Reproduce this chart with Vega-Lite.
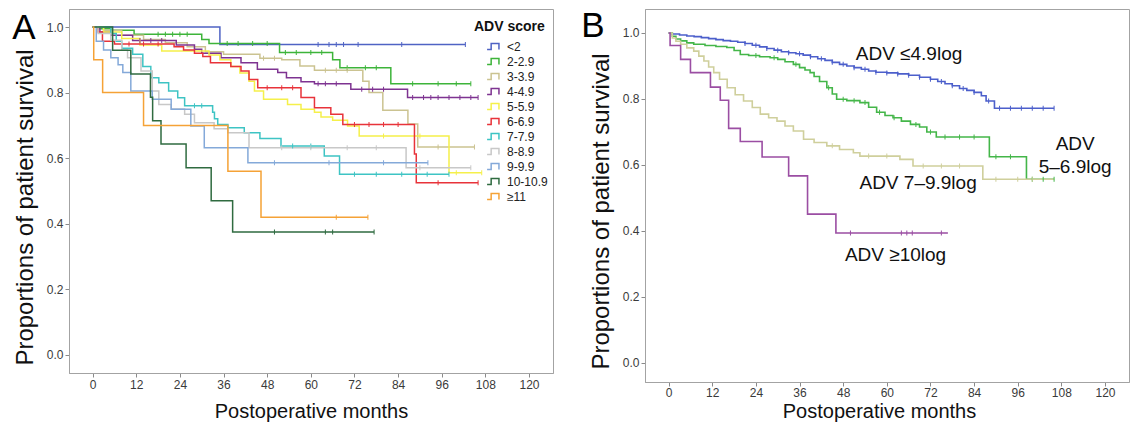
{
  "$schema": "https://vega.github.io/schema/vega-lite/v6.json",
  "padding": {"left": 11, "top": 8, "right": 0, "bottom": 0},
  "autosize": {"type": "pad"},
  "background": "white",
  "spacing": 26,
  "config": {
    "font": "Liberation Sans",
    "view": {"stroke": "#a3a3a3", "strokeWidth": 1},
    "axis": {"grid": false, "domainColor": "#a3a3a3", "tickColor": "#8a8a8a", "tickSize": 4, "labelFontSize": 12, "labelColor": "#3a3a3a", "labelPadding": 2, "titleFontWeight": "normal", "titleColor": "#111111", "labelFont": "Liberation Sans", "titleFont": "Liberation Sans"}
  },
  "resolve": {"scale": {"color": "independent", "fill": "independent"}, "legend": {"color": "independent", "fill": "independent"}},
  "datasets": {
    "a": [
      {"g":"<2","t":0,"s":1},{"g":"<2","t":35,"s":0.947},{"g":"<2","t":102.5,"s":0.947},
      {"g":"2-2.9","t":0,"s":1},{"g":"2-2.9","t":1.5,"s":0.995},{"g":"2-2.9","t":5,"s":0.99},{"g":"2-2.9","t":11.4,"s":0.978},{"g":"2-2.9","t":30,"s":0.962},{"g":"2-2.9","t":32,"s":0.95},{"g":"2-2.9","t":51.4,"s":0.922},{"g":"2-2.9","t":66,"s":0.9},{"g":"2-2.9","t":68,"s":0.876},{"g":"2-2.9","t":82,"s":0.827},{"g":"2-2.9","t":104,"s":0.827},
      {"g":"3-3.9","t":0,"s":1},{"g":"3-3.9","t":3,"s":0.99},{"g":"3-3.9","t":8,"s":0.975},{"g":"3-3.9","t":14,"s":0.962},{"g":"3-3.9","t":20,"s":0.952},{"g":"3-3.9","t":26,"s":0.94},{"g":"3-3.9","t":31,"s":0.925},{"g":"3-3.9","t":36,"s":0.917},{"g":"3-3.9","t":46,"s":0.905},{"g":"3-3.9","t":52,"s":0.9},{"g":"3-3.9","t":57,"s":0.881},{"g":"3-3.9","t":61,"s":0.868},{"g":"3-3.9","t":74.3,"s":0.835},{"g":"3-3.9","t":76,"s":0.8},{"g":"3-3.9","t":79.8,"s":0.746},{"g":"3-3.9","t":86.7,"s":0.704},{"g":"3-3.9","t":89.4,"s":0.634},{"g":"3-3.9","t":105,"s":0.634},
      {"g":"4-4.9","t":0,"s":1},{"g":"4-4.9","t":2,"s":0.985},{"g":"4-4.9","t":5,"s":0.975},{"g":"4-4.9","t":11,"s":0.959},{"g":"4-4.9","t":23,"s":0.945},{"g":"4-4.9","t":28,"s":0.932},{"g":"4-4.9","t":30,"s":0.92},{"g":"4-4.9","t":35.3,"s":0.906},{"g":"4-4.9","t":40.8,"s":0.891},{"g":"4-4.9","t":45.3,"s":0.871},{"g":"4-4.9","t":50.9,"s":0.861},{"g":"4-4.9","t":53.3,"s":0.845},{"g":"4-4.9","t":57.3,"s":0.833},{"g":"4-4.9","t":61,"s":0.827},{"g":"4-4.9","t":71,"s":0.81},{"g":"4-4.9","t":86.6,"s":0.785},{"g":"4-4.9","t":106,"s":0.785},
      {"g":"5-5.9","t":0,"s":1},{"g":"5-5.9","t":3,"s":0.985},{"g":"5-5.9","t":8,"s":0.965},{"g":"5-5.9","t":13,"s":0.945},{"g":"5-5.9","t":19,"s":0.927},{"g":"5-5.9","t":32,"s":0.915},{"g":"5-5.9","t":35,"s":0.9},{"g":"5-5.9","t":38,"s":0.88},{"g":"5-5.9","t":40.5,"s":0.86},{"g":"5-5.9","t":43,"s":0.835},{"g":"5-5.9","t":44.5,"s":0.805},{"g":"5-5.9","t":47,"s":0.78},{"g":"5-5.9","t":53.6,"s":0.764},{"g":"5-5.9","t":57.3,"s":0.749},{"g":"5-5.9","t":61,"s":0.74},{"g":"5-5.9","t":62.8,"s":0.726},{"g":"5-5.9","t":66,"s":0.716},{"g":"5-5.9","t":70.1,"s":0.698},{"g":"5-5.9","t":73.3,"s":0.668},{"g":"5-5.9","t":98,"s":0.556},{"g":"5-5.9","t":107,"s":0.556},
      {"g":"6-6.9","t":0,"s":1},{"g":"6-6.9","t":1.5,"s":0.985},{"g":"6-6.9","t":2.7,"s":0.957},{"g":"6-6.9","t":6,"s":0.948},{"g":"6-6.9","t":22.4,"s":0.94},{"g":"6-6.9","t":25,"s":0.93},{"g":"6-6.9","t":28,"s":0.92},{"g":"6-6.9","t":30.3,"s":0.91},{"g":"6-6.9","t":32.4,"s":0.891},{"g":"6-6.9","t":38,"s":0.88},{"g":"6-6.9","t":40.8,"s":0.866},{"g":"6-6.9","t":43,"s":0.84},{"g":"6-6.9","t":45.4,"s":0.815},{"g":"6-6.9","t":57.3,"s":0.785},{"g":"6-6.9","t":61,"s":0.754},{"g":"6-6.9","t":65.5,"s":0.734},{"g":"6-6.9","t":68.8,"s":0.703},{"g":"6-6.9","t":88.5,"s":0.613},{"g":"6-6.9","t":89,"s":0.525},{"g":"6-6.9","t":106,"s":0.525},
      {"g":"7-7.9","t":0,"s":1},{"g":"7-7.9","t":5,"s":0.98},{"g":"7-7.9","t":6.5,"s":0.957},{"g":"7-7.9","t":8,"s":0.935},{"g":"7-7.9","t":11,"s":0.917},{"g":"7-7.9","t":13.8,"s":0.88},{"g":"7-7.9","t":16,"s":0.845},{"g":"7-7.9","t":18.2,"s":0.83},{"g":"7-7.9","t":20.9,"s":0.805},{"g":"7-7.9","t":23.4,"s":0.784},{"g":"7-7.9","t":25.3,"s":0.76},{"g":"7-7.9","t":33,"s":0.74},{"g":"7-7.9","t":33.5,"s":0.72},{"g":"7-7.9","t":34.4,"s":0.703},{"g":"7-7.9","t":37.2,"s":0.693},{"g":"7-7.9","t":41.7,"s":0.678},{"g":"7-7.9","t":46,"s":0.66},{"g":"7-7.9","t":51.8,"s":0.637},{"g":"7-7.9","t":63.7,"s":0.607},{"g":"7-7.9","t":67.9,"s":0.551},{"g":"7-7.9","t":98,"s":0.551},
      {"g":"8-8.9","t":0,"s":1},{"g":"8-8.9","t":1.5,"s":0.98},{"g":"8-8.9","t":5,"s":0.96},{"g":"8-8.9","t":8,"s":0.93},{"g":"8-8.9","t":9.6,"s":0.906},{"g":"8-8.9","t":13.3,"s":0.866},{"g":"8-8.9","t":16.4,"s":0.805},{"g":"8-8.9","t":18.2,"s":0.764},{"g":"8-8.9","t":21.6,"s":0.75},{"g":"8-8.9","t":25.3,"s":0.734},{"g":"8-8.9","t":28,"s":0.708},{"g":"8-8.9","t":33.4,"s":0.69},{"g":"8-8.9","t":37.2,"s":0.678},{"g":"8-8.9","t":43,"s":0.632},{"g":"8-8.9","t":86.2,"s":0.571},{"g":"8-8.9","t":104,"s":0.571},
      {"g":"9-9.9","t":0,"s":1},{"g":"9-9.9","t":1,"s":0.957},{"g":"9-9.9","t":3,"s":0.93},{"g":"9-9.9","t":5,"s":0.906},{"g":"9-9.9","t":7,"s":0.885},{"g":"9-9.9","t":8.3,"s":0.861},{"g":"9-9.9","t":10.5,"s":0.805},{"g":"9-9.9","t":16.4,"s":0.78},{"g":"9-9.9","t":21.6,"s":0.749},{"g":"9-9.9","t":27,"s":0.698},{"g":"9-9.9","t":30.7,"s":0.632},{"g":"9-9.9","t":42.7,"s":0.586},{"g":"9-9.9","t":92.2,"s":0.586},
      {"g":"10-10.9","t":0,"s":1},{"g":"10-10.9","t":5.5,"s":0.929},{"g":"10-10.9","t":10.5,"s":0.857},{"g":"10-10.9","t":15.9,"s":0.786},{"g":"10-10.9","t":16.5,"s":0.714},{"g":"10-10.9","t":18.8,"s":0.643},{"g":"10-10.9","t":25.7,"s":0.571},{"g":"10-10.9","t":32.6,"s":0.47},{"g":"10-10.9","t":38.5,"s":0.375},{"g":"10-10.9","t":77.4,"s":0.375},
      {"g":"≥11","t":0,"s":1},{"g":"≥11","t":0.3,"s":0.9},{"g":"≥11","t":2.75,"s":0.8},{"g":"≥11","t":14,"s":0.7},{"g":"≥11","t":37.2,"s":0.56},{"g":"≥11","t":46.3,"s":0.42},{"g":"≥11","t":75.7,"s":0.42}
    ],
    "ac": [
      {"c":"<2","t":62,"s":0.947},{"c":"<2","t":65,"s":0.947},{"c":"<2","t":67,"s":0.947},{"c":"<2","t":69,"s":0.947},{"c":"<2","t":73,"s":0.947},{"c":"<2","t":85,"s":0.947},{"c":"<2","t":102.5,"s":0.947},
      {"c":"2-2.9","t":18,"s":0.978},{"c":"2-2.9","t":20,"s":0.978},{"c":"2-2.9","t":22,"s":0.978},{"c":"2-2.9","t":24,"s":0.978},{"c":"2-2.9","t":26,"s":0.978},{"c":"2-2.9","t":37,"s":0.95},{"c":"2-2.9","t":40,"s":0.95},{"c":"2-2.9","t":44,"s":0.95},{"c":"2-2.9","t":48,"s":0.95},{"c":"2-2.9","t":53,"s":0.922},{"c":"2-2.9","t":56,"s":0.922},{"c":"2-2.9","t":60,"s":0.922},{"c":"2-2.9","t":63,"s":0.922},{"c":"2-2.9","t":70,"s":0.876},{"c":"2-2.9","t":75,"s":0.876},{"c":"2-2.9","t":78,"s":0.876},{"c":"2-2.9","t":88,"s":0.827},{"c":"2-2.9","t":95,"s":0.827},{"c":"2-2.9","t":100,"s":0.827},{"c":"2-2.9","t":104,"s":0.827},
      {"c":"3-3.9","t":47,"s":0.905},{"c":"3-3.9","t":50,"s":0.905},{"c":"3-3.9","t":64,"s":0.868},{"c":"3-3.9","t":67,"s":0.868},{"c":"3-3.9","t":70,"s":0.868},{"c":"3-3.9","t":95,"s":0.634},{"c":"3-3.9","t":105,"s":0.634},
      {"c":"4-4.9","t":13,"s":0.959},{"c":"4-4.9","t":16,"s":0.959},{"c":"4-4.9","t":19,"s":0.959},{"c":"4-4.9","t":62,"s":0.827},{"c":"4-4.9","t":64,"s":0.827},{"c":"4-4.9","t":67,"s":0.827},{"c":"4-4.9","t":74,"s":0.81},{"c":"4-4.9","t":77,"s":0.81},{"c":"4-4.9","t":80,"s":0.81},{"c":"4-4.9","t":88,"s":0.785},{"c":"4-4.9","t":91,"s":0.785},{"c":"4-4.9","t":93,"s":0.785},{"c":"4-4.9","t":95,"s":0.785},{"c":"4-4.9","t":98,"s":0.785},{"c":"4-4.9","t":101,"s":0.785},{"c":"4-4.9","t":104,"s":0.785},{"c":"4-4.9","t":106,"s":0.785},
      {"c":"5-5.9","t":80,"s":0.668},{"c":"5-5.9","t":90,"s":0.668},{"c":"5-5.9","t":100,"s":0.556},{"c":"5-5.9","t":107,"s":0.556},
      {"c":"6-6.9","t":10,"s":0.948},{"c":"6-6.9","t":14,"s":0.948},{"c":"6-6.9","t":18,"s":0.948},{"c":"6-6.9","t":48,"s":0.815},{"c":"6-6.9","t":52,"s":0.815},{"c":"6-6.9","t":55,"s":0.815},{"c":"6-6.9","t":72,"s":0.703},{"c":"6-6.9","t":76,"s":0.703},{"c":"6-6.9","t":80,"s":0.703},{"c":"6-6.9","t":84,"s":0.703},{"c":"6-6.9","t":95,"s":0.525},{"c":"6-6.9","t":106,"s":0.525},
      {"c":"7-7.9","t":28,"s":0.76},{"c":"7-7.9","t":30,"s":0.76},{"c":"7-7.9","t":55,"s":0.637},{"c":"7-7.9","t":60,"s":0.637},{"c":"7-7.9","t":72,"s":0.551},{"c":"7-7.9","t":78,"s":0.551},{"c":"7-7.9","t":85,"s":0.551},{"c":"7-7.9","t":92,"s":0.551},{"c":"7-7.9","t":98,"s":0.551},
      {"c":"8-8.9","t":52,"s":0.632},{"c":"8-8.9","t":60,"s":0.632},{"c":"8-8.9","t":70,"s":0.632},{"c":"8-8.9","t":78,"s":0.632},{"c":"8-8.9","t":90,"s":0.571},{"c":"8-8.9","t":104,"s":0.571},
      {"c":"9-9.9","t":50,"s":0.586},{"c":"9-9.9","t":65,"s":0.586},{"c":"9-9.9","t":80,"s":0.586},{"c":"9-9.9","t":92.2,"s":0.586},
      {"c":"10-10.9","t":50,"s":0.375},{"c":"10-10.9","t":64,"s":0.375},{"c":"10-10.9","t":66,"s":0.375},{"c":"10-10.9","t":77.4,"s":0.375},
      {"c":"≥11","t":67,"s":0.42},{"c":"≥11","t":75.7,"s":0.42}
    ],
    "b": [
      {"g":"≤4.9","t":0,"s":1},{"g":"≤4.9","t":1,"s":0.997},{"g":"≤4.9","t":3,"s":0.994},{"g":"≤4.9","t":5,"s":0.991},{"g":"≤4.9","t":7,"s":0.989},{"g":"≤4.9","t":9,"s":0.986},{"g":"≤4.9","t":11,"s":0.983},{"g":"≤4.9","t":13,"s":0.98},{"g":"≤4.9","t":15,"s":0.977},{"g":"≤4.9","t":17,"s":0.975},{"g":"≤4.9","t":19,"s":0.972},{"g":"≤4.9","t":21,"s":0.968},{"g":"≤4.9","t":23,"s":0.963},{"g":"≤4.9","t":25,"s":0.958},{"g":"≤4.9","t":27,"s":0.953},{"g":"≤4.9","t":29,"s":0.948},{"g":"≤4.9","t":31,"s":0.943},{"g":"≤4.9","t":33,"s":0.94},{"g":"≤4.9","t":35,"s":0.937},{"g":"≤4.9","t":37,"s":0.933},{"g":"≤4.9","t":39,"s":0.928},{"g":"≤4.9","t":41,"s":0.922},{"g":"≤4.9","t":43,"s":0.917},{"g":"≤4.9","t":45,"s":0.911},{"g":"≤4.9","t":47,"s":0.905},{"g":"≤4.9","t":49,"s":0.9},{"g":"≤4.9","t":51,"s":0.895},{"g":"≤4.9","t":53,"s":0.89},{"g":"≤4.9","t":55,"s":0.885},{"g":"≤4.9","t":57,"s":0.881},{"g":"≤4.9","t":60,"s":0.879},{"g":"≤4.9","t":63,"s":0.876},{"g":"≤4.9","t":66,"s":0.872},{"g":"≤4.9","t":69,"s":0.866},{"g":"≤4.9","t":72,"s":0.86},{"g":"≤4.9","t":74,"s":0.853},{"g":"≤4.9","t":76,"s":0.846},{"g":"≤4.9","t":78,"s":0.84},{"g":"≤4.9","t":80,"s":0.832},{"g":"≤4.9","t":82,"s":0.826},{"g":"≤4.9","t":84,"s":0.82},{"g":"≤4.9","t":86,"s":0.81},{"g":"≤4.9","t":87.3,"s":0.794},{"g":"≤4.9","t":89.6,"s":0.772},{"g":"≤4.9","t":106,"s":0.772},
      {"g":"5–6.9","t":0,"s":1},{"g":"5–6.9","t":1,"s":0.99},{"g":"5–6.9","t":2,"s":0.982},{"g":"5–6.9","t":3.3,"s":0.976},{"g":"5–6.9","t":5,"s":0.97},{"g":"5–6.9","t":6.9,"s":0.966},{"g":"5–6.9","t":10,"s":0.962},{"g":"5–6.9","t":13,"s":0.959},{"g":"5–6.9","t":16,"s":0.956},{"g":"5–6.9","t":18,"s":0.947},{"g":"5–6.9","t":19.7,"s":0.935},{"g":"5–6.9","t":22,"s":0.932},{"g":"5–6.9","t":25,"s":0.928},{"g":"5–6.9","t":27.9,"s":0.925},{"g":"5–6.9","t":30,"s":0.92},{"g":"5–6.9","t":32,"s":0.913},{"g":"5–6.9","t":34.3,"s":0.905},{"g":"5–6.9","t":36,"s":0.895},{"g":"5–6.9","t":37.5,"s":0.888},{"g":"5–6.9","t":38.9,"s":0.88},{"g":"5–6.9","t":40,"s":0.868},{"g":"5–6.9","t":41.5,"s":0.853},{"g":"5–6.9","t":43.5,"s":0.834},{"g":"5–6.9","t":45,"s":0.815},{"g":"5–6.9","t":46.2,"s":0.799},{"g":"5–6.9","t":49,"s":0.795},{"g":"5–6.9","t":52.6,"s":0.789},{"g":"5–6.9","t":55,"s":0.775},{"g":"5–6.9","t":57.2,"s":0.76},{"g":"5–6.9","t":59.5,"s":0.75},{"g":"5–6.9","t":61.7,"s":0.743},{"g":"5–6.9","t":64,"s":0.733},{"g":"5–6.9","t":66.5,"s":0.723},{"g":"5–6.9","t":69,"s":0.715},{"g":"5–6.9","t":71,"s":0.7},{"g":"5–6.9","t":73.6,"s":0.685},{"g":"5–6.9","t":88.2,"s":0.625},{"g":"5–6.9","t":98.4,"s":0.557},{"g":"5–6.9","t":106,"s":0.557},
      {"g":"7–9.9","t":0,"s":1},{"g":"7–9.9","t":1,"s":0.985},{"g":"7–9.9","t":2,"s":0.975},{"g":"7–9.9","t":3.3,"s":0.966},{"g":"7–9.9","t":5,"s":0.955},{"g":"7–9.9","t":6.9,"s":0.945},{"g":"7–9.9","t":8.3,"s":0.93},{"g":"7–9.9","t":9.7,"s":0.915},{"g":"7–9.9","t":11,"s":0.897},{"g":"7–9.9","t":12.4,"s":0.88},{"g":"7–9.9","t":14,"s":0.86},{"g":"7–9.9","t":16.1,"s":0.834},{"g":"7–9.9","t":18.3,"s":0.813},{"g":"7–9.9","t":20.6,"s":0.794},{"g":"7–9.9","t":23,"s":0.774},{"g":"7–9.9","t":25.2,"s":0.754},{"g":"7–9.9","t":27.5,"s":0.743},{"g":"7–9.9","t":29.8,"s":0.733},{"g":"7–9.9","t":32,"s":0.718},{"g":"7–9.9","t":34.3,"s":0.703},{"g":"7–9.9","t":37.1,"s":0.678},{"g":"7–9.9","t":40,"s":0.668},{"g":"7–9.9","t":43.5,"s":0.658},{"g":"7–9.9","t":47,"s":0.647},{"g":"7–9.9","t":50.8,"s":0.637},{"g":"7–9.9","t":52.6,"s":0.627},{"g":"7–9.9","t":63.6,"s":0.617},{"g":"7–9.9","t":67.2,"s":0.597},{"g":"7–9.9","t":86.4,"s":0.557},{"g":"7–9.9","t":106,"s":0.557},
      {"g":"≥10","t":0,"s":1},{"g":"≥10","t":0.4,"s":0.962},{"g":"≥10","t":3.3,"s":0.92},{"g":"≥10","t":6,"s":0.88},{"g":"≥10","t":11.5,"s":0.836},{"g":"≥10","t":14.2,"s":0.796},{"g":"≥10","t":16.5,"s":0.711},{"g":"≥10","t":19.7,"s":0.671},{"g":"≥10","t":25.7,"s":0.624},{"g":"≥10","t":33,"s":0.567},{"g":"≥10","t":38.2,"s":0.451},{"g":"≥10","t":46,"s":0.394},{"g":"≥10","t":76.8,"s":0.394}
    ],
    "bc": [
      {"c":"≤4.9","t":21,"s":0.968},{"c":"≤4.9","t":24,"s":0.963},{"c":"≤4.9","t":27,"s":0.953},{"c":"≤4.9","t":30,"s":0.948},{"c":"≤4.9","t":33,"s":0.94},{"c":"≤4.9","t":36,"s":0.937},{"c":"≤4.9","t":39,"s":0.928},{"c":"≤4.9","t":42,"s":0.922},{"c":"≤4.9","t":45,"s":0.911},{"c":"≤4.9","t":48,"s":0.905},{"c":"≤4.9","t":51,"s":0.895},{"c":"≤4.9","t":54,"s":0.89},{"c":"≤4.9","t":57,"s":0.881},{"c":"≤4.9","t":60,"s":0.879},{"c":"≤4.9","t":63,"s":0.876},{"c":"≤4.9","t":66,"s":0.872},{"c":"≤4.9","t":69,"s":0.866},{"c":"≤4.9","t":72,"s":0.86},{"c":"≤4.9","t":75,"s":0.853},{"c":"≤4.9","t":78,"s":0.84},{"c":"≤4.9","t":81,"s":0.832},{"c":"≤4.9","t":84,"s":0.82},{"c":"≤4.9","t":88,"s":0.794},{"c":"≤4.9","t":91,"s":0.772},{"c":"≤4.9","t":94,"s":0.772},{"c":"≤4.9","t":97,"s":0.772},{"c":"≤4.9","t":100,"s":0.772},{"c":"≤4.9","t":103,"s":0.772},{"c":"≤4.9","t":106,"s":0.772},
      {"c":"5–6.9","t":24,"s":0.932},{"c":"5–6.9","t":29,"s":0.925},{"c":"5–6.9","t":35,"s":0.905},{"c":"5–6.9","t":44,"s":0.834},{"c":"5–6.9","t":48,"s":0.799},{"c":"5–6.9","t":51,"s":0.795},{"c":"5–6.9","t":54,"s":0.789},{"c":"5–6.9","t":58,"s":0.76},{"c":"5–6.9","t":62,"s":0.743},{"c":"5–6.9","t":68,"s":0.723},{"c":"5–6.9","t":72,"s":0.7},{"c":"5–6.9","t":76,"s":0.685},{"c":"5–6.9","t":80,"s":0.685},{"c":"5–6.9","t":84,"s":0.685},{"c":"5–6.9","t":90,"s":0.625},{"c":"5–6.9","t":94,"s":0.625},{"c":"5–6.9","t":100,"s":0.557},{"c":"5–6.9","t":103,"s":0.557},{"c":"5–6.9","t":106,"s":0.557},
      {"c":"7–9.9","t":45,"s":0.658},{"c":"7–9.9","t":55,"s":0.627},{"c":"7–9.9","t":60,"s":0.627},{"c":"7–9.9","t":70,"s":0.597},{"c":"7–9.9","t":75,"s":0.597},{"c":"7–9.9","t":80,"s":0.597},{"c":"7–9.9","t":90,"s":0.557},{"c":"7–9.9","t":96,"s":0.557},{"c":"7–9.9","t":100,"s":0.557},
      {"c":"≥10","t":50,"s":0.394},{"c":"≥10","t":64,"s":0.394},{"c":"≥10","t":65.5,"s":0.394},{"c":"≥10","t":67,"s":0.394},{"c":"≥10","t":75,"s":0.394}
    ],
    "blab": [
      {"t":66.1,"s":0.936,"label":"ADV ≤4.9log"},
      {"t":111.8,"s":0.664,"label":"ADV"},
      {"t":111.8,"s":0.594,"label":"5–6.9log"},
      {"t":68.6,"s":0.545,"label":"ADV 7–9.9log"},
      {"t":62.4,"s":0.327,"label":"ADV ≥10log"}
    ]
  },
  "hconcat": [
    {
      "width": 484,
      "height": 364,
      "encoding": {
        "x": {"field": "t", "type": "quantitative", "scale": {"domain": [-6.5, 126.6], "nice": false, "zero": false},
              "axis": {"values": [0,12,24,36,48,60,72,84,96,108,120], "title": "Postoperative months", "titleFontSize": 20, "titlePadding": 11}},
        "y": {"field": "s", "type": "quantitative", "scale": {"domain": [-0.055, 1.055], "nice": false, "zero": false},
              "axis": {"values": [0,0.2,0.4,0.6,0.8,1], "format": ".1f", "title": "Proportions of patient survival", "titleFontSize": 24, "titlePadding": 9, "titleY": 198}}
      },
      "layer": [
        {
          "data": {"name": "a"},
          "mark": {"type": "line", "interpolate": "step-after", "strokeWidth": 1.5},
          "encoding": {
            "color": {"field": "g", "type": "nominal",
              "scale": {"domain": ["<2","2-2.9","3-3.9","4-4.9","5-5.9","6-6.9","7-7.9","8-8.9","9-9.9","10-10.9","≥11"],
                        "range": ["#4f63c4","#3db43a","#cbc391","#7e3391","#f5f04a","#e8333a","#3ec4c4","#c8c8c8","#84a9d9","#2f6b40","#f5a236"]},
              "legend": {"title": "ADV score", "orient": "none", "legendX": 405, "legendY": 11, "titleFontSize": 14, "titleFontWeight": "bold", "titleColor": "#111111", "titlePadding": 4, "labelFontSize": 12, "labelColor": "#222222", "symbolType": "M-1,0.4H-0.45V-0.4H0.6V0.4", "symbolSize": 220, "symbolStrokeWidth": 1.5, "rowPadding": 0, "symbolOffset": 12, "labelOffset": 4,
                "encode": {"symbols": {"update": {"fill": {"value": "transparent"}, "fillOpacity": {"value": 0}, "strokeWidth": {"value": 1.5}}}}}
            }
          }
        },
        {
          "data": {"name": "ac"},
          "mark": {"type": "tick", "orient": "vertical", "size": 5, "thickness": 1, "opacity": 1},
          "encoding": {"fill": {"field": "c", "type": "nominal",
              "scale": {"domain": ["<2","2-2.9","3-3.9","4-4.9","5-5.9","6-6.9","7-7.9","8-8.9","9-9.9","10-10.9","≥11"],
                        "range": ["#4f63c4","#3db43a","#cbc391","#7e3391","#f5f04a","#e8333a","#3ec4c4","#c8c8c8","#84a9d9","#2f6b40","#f5a236"]},
              "legend": null}}
        },
        {
          "data": {"values": [{"t": -18.9, "s": 0.963, "label": "A"}]},
          "mark": {"type": "text", "fontSize": 35, "baseline": "alphabetic", "align": "center", "color": "#000000"},
          "encoding": {"text": {"field": "label"}}
        }
      ]
    },
    {
      "width": 484,
      "height": 373,
      "encoding": {
        "x": {"field": "t", "type": "quantitative", "scale": {"domain": [-6.5, 126.6], "nice": false, "zero": false},
              "axis": {"values": [0,12,24,36,48,60,72,84,96,108,120], "title": "Postoperative months", "titleFontSize": 20, "titlePadding": 3, "labelPadding": 1, "titleX": 234}},
        "y": {"field": "s", "type": "quantitative", "scale": {"domain": [-0.0576, 1.0727], "nice": false, "zero": false},
              "axis": {"values": [0,0.2,0.4,0.6,0.8,1], "format": ".1f", "title": "Proportions of patient survival", "titleFontSize": 24, "titlePadding": 9, "titleY": 202}}
      },
      "layer": [
        {
          "data": {"name": "b"},
          "mark": {"type": "line", "interpolate": "step-after", "strokeWidth": 1.6},
          "encoding": {
            "color": {"field": "g", "type": "nominal",
              "scale": {"domain": ["≤4.9","5–6.9","7–9.9","≥10"], "range": ["#4c5fcb","#44b649","#cfcf9c","#9b4ea3"]},
              "legend": null}
          }
        },
        {
          "data": {"name": "bc"},
          "mark": {"type": "tick", "orient": "vertical", "size": 5, "thickness": 1, "opacity": 1},
          "encoding": {"fill": {"field": "c", "type": "nominal",
              "scale": {"domain": ["≤4.9","5–6.9","7–9.9","≥10"], "range": ["#4c5fcb","#44b649","#cfcf9c","#9b4ea3"]},
              "legend": null}}
        },
        {
          "data": {"name": "blab"},
          "mark": {"type": "text", "fontSize": 19, "baseline": "middle", "align": "center", "color": "#111111"},
          "encoding": {"text": {"field": "label"}}
        },
        {
          "data": {"values": [{"t": -20.8, "s": 0.987, "label": "B"}]},
          "mark": {"type": "text", "fontSize": 35, "baseline": "alphabetic", "align": "center", "color": "#000000"},
          "encoding": {"text": {"field": "label"}}
        }
      ]
    }
  ]
}
